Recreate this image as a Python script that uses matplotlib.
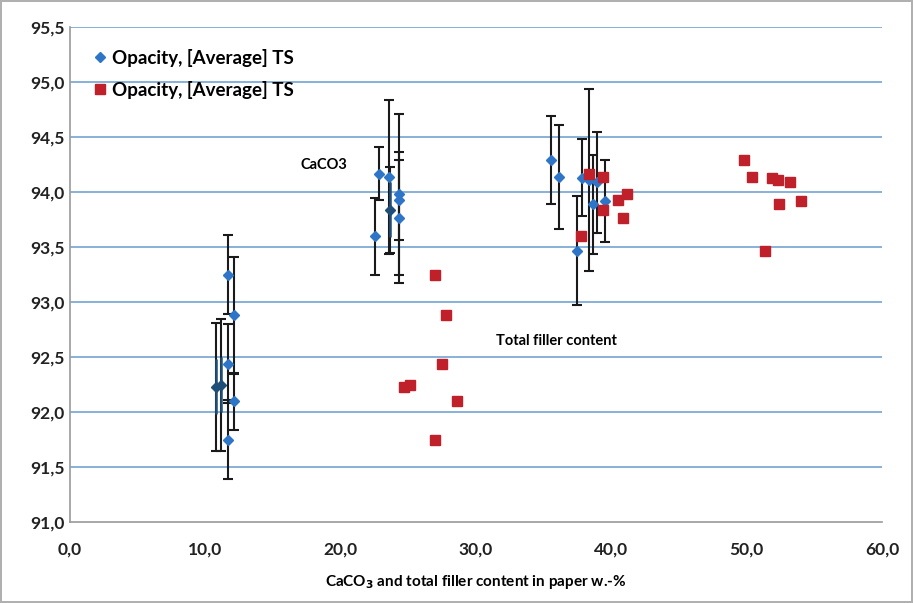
import numpy as np
import matplotlib
matplotlib.use("Agg")
import matplotlib.pyplot as plt
from matplotlib.ticker import FuncFormatter

plt.rcParams['font.family'] = ['Lato', 'DejaVu Sans']

# opacity values shared by the CaCO3 and total filler points of each sample
opacity_a = [93.25, 92.88, 92.44, 92.10, 91.75, 92.23, 92.25]
opacity_b = [93.60, 94.17, 94.14, 93.84, 93.98, 93.93, 93.77]
opacity_c = [94.29, 94.14, 94.13, 93.47, 94.11, 93.89, 94.09, 93.92]

caco3_a = [11.65, 12.14, 11.65, 12.14, 11.65, 10.79, 11.16]
caco3_b = [22.54, 22.86, 23.57, 23.65, 24.33, 24.33, 24.33]
caco3_c = [35.54, 36.13, 37.81, 37.44, 38.37, 38.67, 38.92, 39.53]

filler_a = [26.97, 27.76, 27.51, 28.57, 26.97, 24.70, 25.10]
filler_b = [37.74, 38.37, 39.36, 39.36, 41.14, 40.47, 40.84]
filler_c = [49.83, 50.37, 51.85, 51.35, 52.29, 52.42, 53.20, 53.99]

err_a = [0.36, 0.53, 0.36, 0.26, 0.36, 0.58, 0.60]
err_b = [0.35, 0.24, 0.70, 0.39, 0.73, 0.36, 0.60]
err_c = [0.40, 0.47, 0.35, 0.50, 0.83, 0.45, 0.46, 0.37]

# samples highlighted in dark blue
dark_a = [False, False, False, False, False, True, True]
dark_b = [False, False, False, True, False, False, False]
dark_c = [False] * 8

opacity = np.array(opacity_a + opacity_b + opacity_c)
caco3 = np.array(caco3_a + caco3_b + caco3_c)
filler = np.array(filler_a + filler_b + filler_c)
err = np.array(err_a + err_b + err_c)
dark = np.array(dark_a + dark_b + dark_c)

blue = '#2E75C8'
navy = '#1F4E79'
red = '#C0202A'
grid_blue = '#7FAAD6'

fig = plt.figure(figsize=(9.13, 6.03), dpi=100)
fig.patch.set_edgecolor('#B0B0B0')
fig.patch.set_linewidth(1.5)
ax = fig.add_axes([0.0767, 0.1343, 0.8893, 0.8203])

for y in np.arange(91.5, 95.51, 0.5):
    ax.axhline(y, color=grid_blue, lw=1.3, zorder=0)

# error bars on the CaCO3 series
ax.errorbar(caco3, opacity, yerr=err, fmt='none', ecolor='#1A1A1A',
            elinewidth=1.5, capsize=3.5, capthick=1.5, zorder=2)
ax.errorbar(caco3[dark], opacity[dark], yerr=0.25, fmt='none', ecolor=navy,
            elinewidth=1.8, capsize=0, zorder=3)

ax.plot(caco3[~dark], opacity[~dark], 'D', color=blue, ms=5.5, mec=blue,
        zorder=4, label='Opacity, [Average] TS')
ax.plot(caco3[dark], opacity[dark], 'D', color=navy, ms=5.5, mec=navy, zorder=4)
ax.plot(filler, opacity, 's', color=red, ms=7, mec=red, zorder=4,
        label='Opacity, [Average] TS')

ax.text(17.0, 94.25, 'CaCO3', fontsize=10.5, fontweight='bold', ha='left', va='center')
ax.text(31.5, 92.65, 'Total filler content', fontsize=10.5, fontweight='bold',
        ha='left', va='center')

ax.set_xlim(0, 60)
ax.set_ylim(91.0, 95.5)
ax.set_xticks(np.arange(0, 60.1, 10))
ax.set_yticks(np.arange(91.0, 95.51, 0.5))
fmt = FuncFormatter(lambda v, p: ('%.1f' % v).replace('.', ','))
ax.xaxis.set_major_formatter(fmt)
ax.yaxis.set_major_formatter(fmt)
ax.tick_params(length=0, labelsize=12.5)
ax.tick_params(axis='x', pad=14)
ax.tick_params(axis='y', pad=4)
for lab in ax.get_xticklabels() + ax.get_yticklabels():
    lab.set_fontweight('bold')
    lab.set_color('#222222')

for side in ['top', 'right']:
    ax.spines[side].set_visible(False)
for side in ['left', 'bottom']:
    ax.spines[side].set_color('#9A9A9A')
    ax.spines[side].set_linewidth(1.2)

ax.set_xlabel('CaCO$_\\mathbf{3}$ and total filler content in paper w.-%',
              fontsize=11, fontweight='bold', labelpad=11)

leg = ax.legend(loc='upper left', bbox_to_anchor=(0.022, 0.972), frameon=False,
                prop={'weight': 'bold', 'size': 13.5}, handlelength=0.5,
                handletextpad=0.4, labelspacing=0.75, borderaxespad=0)

fig.savefig('out.png', dpi=100, edgecolor=fig.get_edgecolor())
